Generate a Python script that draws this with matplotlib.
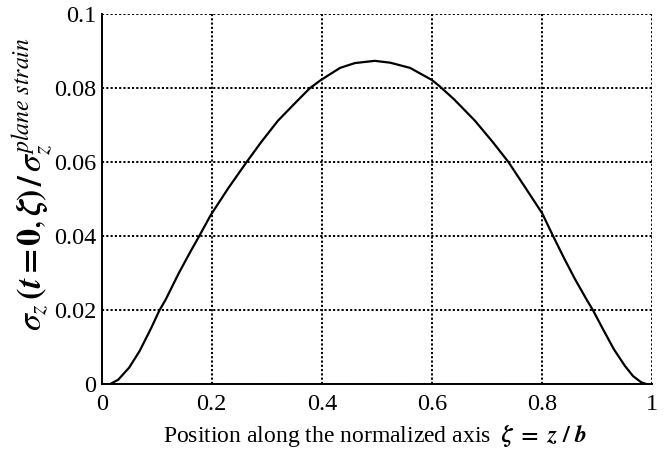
import matplotlib
matplotlib.use("Agg")
import matplotlib.pyplot as plt

# position along normalized axis and normalized stress
zeta = [0.0, 0.015, 0.03, 0.05, 0.069, 0.09, 0.105, 0.116, 0.14, 0.16,
        0.177, 0.198, 0.23, 0.263, 0.29, 0.32, 0.354, 0.378, 0.398, 0.433,
        0.46, 0.496, 0.524, 0.56, 0.6, 0.614, 0.64, 0.678, 0.71, 0.739,
        0.77, 0.80, 0.82, 0.84, 0.86, 0.881, 0.893, 0.91, 0.93, 0.95,
        0.965, 0.98, 0.99, 1.0]
stress = [0.0, 0.0, 0.0012, 0.0045, 0.009, 0.0152, 0.020, 0.0228, 0.030, 0.0355,
          0.040, 0.0457, 0.053, 0.060, 0.0655, 0.0712, 0.0764, 0.080, 0.0822, 0.0855,
          0.0868, 0.0874, 0.0869, 0.0855, 0.0822, 0.0805, 0.0770, 0.0712, 0.0655, 0.060,
          0.053, 0.0462, 0.040, 0.0340, 0.0283, 0.0228, 0.0198, 0.0150, 0.0095, 0.0050,
          0.0022, 0.0005, 0.0, 0.0]

xticks = [0, 0.2, 0.4, 0.6, 0.8, 1]
xticklabels = ["0", "0.2", "0.4", "0.6", "0.8", "1"]
yticks = [0, 0.02, 0.04, 0.06, 0.08, 0.1]
yticklabels = ["0", "0.02", "0.04", "0.06", "0.08", "0.1"]

plt.rcParams['font.family'] = ['Liberation Serif', 'DejaVu Serif']
plt.rcParams['mathtext.fontset'] = 'stix'

fig = plt.figure(figsize=(6.69, 4.59), dpi=100)
ax = fig.add_axes([0.152, 0.163, 0.823, 0.806])

ax.plot(zeta, stress, color='black', lw=1.6)

ax.set_xlim(0, 1)
ax.set_ylim(0, 0.1)
ax.set_xticks(xticks)
ax.set_xticklabels(xticklabels)
ax.set_yticks(yticks)
ax.set_yticklabels(yticklabels)
ax.tick_params(direction='in', length=0, labelsize=17.5)
ax.tick_params(axis='x', pad=7)
ax.tick_params(axis='y', pad=4)

ax.grid(True, color='black', linestyle=(0, (1.1, 1.1)), linewidth=1.4)
ax.set_axisbelow(True)
for side in ['top', 'right']:
    ax.spines[side].set_visible(False)
for side in ['left', 'bottom']:
    ax.spines[side].set_linewidth(1.4)

ax.set_xlabel(r"Position along the normalized axis  $\boldsymbol{\zeta}\ \mathbf{=}\ \boldsymbol{z\ /\ b}$",
              fontsize=17)
ax.xaxis.set_label_coords(0.497, -0.105)
ax.set_ylabel(r"$\boldsymbol{\sigma_z\,(t=0,\zeta)\,/\,\sigma_z^{plane\ strain}}$",
              fontsize=24.5)
ax.yaxis.set_label_coords(-0.085, 0.54)

fig.savefig("out.png", dpi=100)
